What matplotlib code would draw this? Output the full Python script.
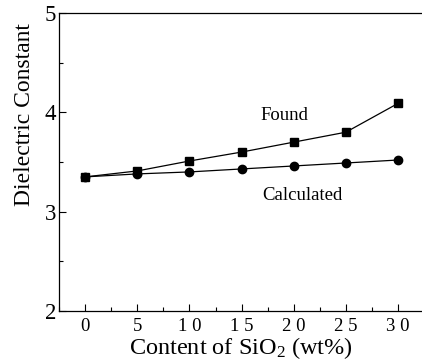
import matplotlib.pyplot as plt
from matplotlib.ticker import MultipleLocator

plt.rcParams['font.family'] = ['Liberation Serif', 'DejaVu Serif']
plt.rcParams['mathtext.fontset'] = 'custom'
plt.rcParams['mathtext.rm'] = 'Liberation Serif'
plt.rcParams['mathtext.it'] = 'Liberation Serif:italic'

# data
sio2 = [0, 5, 10, 15, 20, 25, 30]
found = [3.35, 3.41, 3.51, 3.60, 3.70, 3.80, 4.09]
calculated = [3.35, 3.38, 3.40, 3.43, 3.46, 3.49, 3.52]
xtick_labels = ['0', '5', '1 0', '1 5', '2 0', '2 5', '3 0']

fig = plt.figure(figsize=(4.22, 3.62), dpi=100)
ax = fig.add_axes([0.140, 0.141, 0.860, 0.823])

ax.plot(sio2, found, '-', color='black', lw=0.9, marker='s', ms=5.5)
ax.plot(sio2, calculated, '-', color='black', lw=0.9, marker='o', ms=6)

ax.text(16.8, 3.97, 'Found', fontsize=13.5, ha='left', va='center')
ax.text(17.0, 3.16, 'Calculated', fontsize=13.5, ha='left', va='center')

ax.set_xlim(-2.5, 32.3)
ax.set_ylim(2, 5)
ax.set_xticks(sio2)
ax.set_xticklabels(xtick_labels)
ax.set_yticks([2, 3, 4, 5])
ax.xaxis.set_minor_locator(MultipleLocator(2.5))
ax.yaxis.set_minor_locator(MultipleLocator(0.5))
ax.tick_params(which='major', direction='in', length=5, width=0.8)
ax.tick_params(which='minor', direction='in', length=3, width=0.8)
ax.tick_params(axis='x', labelsize=13.5, pad=5)
ax.tick_params(axis='y', labelsize=16.5, pad=2)

ax.spines['right'].set_visible(False)
for s in ('left', 'bottom', 'top'):
    ax.spines[s].set_linewidth(0.9)

ax.set_xlabel(r'Content of SiO$_{\rm 2}$ (wt%)', fontsize=17.5, labelpad=0)
ax.set_ylabel('Dielectric Constant', fontsize=17)
ax.yaxis.set_label_coords(-0.066, 0.66)

fig.savefig('out.png', dpi=100, facecolor='white')
